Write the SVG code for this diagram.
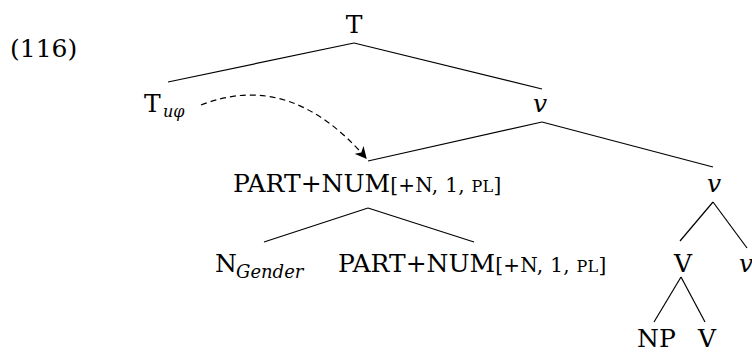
<svg xmlns="http://www.w3.org/2000/svg" width="752" height="352" viewBox="0 0 752 352">
<style>
text{font-family:"DejaVu Serif","Liberation Serif",serif;fill:#000;font-size:25px}
.it{font-style:italic}
.sub{font-size:16px;font-style:italic}
.gs{font-size:18px;font-style:italic}
.sm{font-size:20px;letter-spacing:0.3px}
.sc{font-size:16px}
.e{stroke:#000;stroke-width:1.2;fill:none}
</style>
<defs>
<marker id="ah" viewBox="0 0 10 10" refX="9" refY="5" markerWidth="12" markerHeight="12" markerUnits="userSpaceOnUse" orient="auto">
<path d="M0,0 L10,5 L0,10 L3,5 Z" fill="#000"/>
</marker>
</defs>
<text x="10" y="57">(116)</text>
<g id="edges">
<line class="e" x1="354" y1="43" x2="168" y2="82"/>
<line class="e" x1="354" y1="43" x2="542" y2="89"/>
<line class="e" x1="542" y1="122" x2="368" y2="161"/>
<line class="e" x1="542" y1="122" x2="713" y2="167"/>
<line class="e" x1="368" y1="208" x2="264" y2="242"/>
<line class="e" x1="368" y1="208" x2="474" y2="242"/>
<line class="e" x1="713" y1="202" x2="680" y2="241"/>
<line class="e" x1="713" y1="202" x2="747" y2="248"/>
<line class="e" x1="681" y1="277" x2="654" y2="322"/>
<line class="e" x1="681" y1="277" x2="705" y2="322"/>
<path class="e" d="M201,105 Q290,70 366,158" stroke-dasharray="6 4" marker-end="url(#ah)"/>
</g>
<g id="T"><text x="354" y="33" text-anchor="middle">T</text></g>
<g id="Tuphi"><text x="144" y="112">T</text><text class="sub" x="163" y="117">uφ</text></g>
<g id="v1"><text class="it" x="540" y="112" text-anchor="middle">v</text></g>
<g id="partnum1"><text x="233" y="192">PART+NUM<tspan class="sm">[+N, 1, <tspan class="sc">PL</tspan>]</tspan></text></g>
<g id="v2"><text class="it" x="714" y="192" text-anchor="middle">v</text></g>
<g id="ngender"><text x="215" y="272">N</text><text class="gs" x="236" y="278">Gender</text></g>
<g id="partnum2"><text x="338" y="272">PART+NUM<tspan class="sm">[+N, 1, <tspan class="sc">PL</tspan>]</tspan></text></g>
<g id="V1"><text x="683" y="272" text-anchor="middle">V</text></g>
<g id="v3"><text class="it" x="739" y="272">v</text></g>
<g id="NP"><text x="637" y="347">NP</text></g>
<g id="V2"><text x="698" y="347">V</text></g>
</svg>
